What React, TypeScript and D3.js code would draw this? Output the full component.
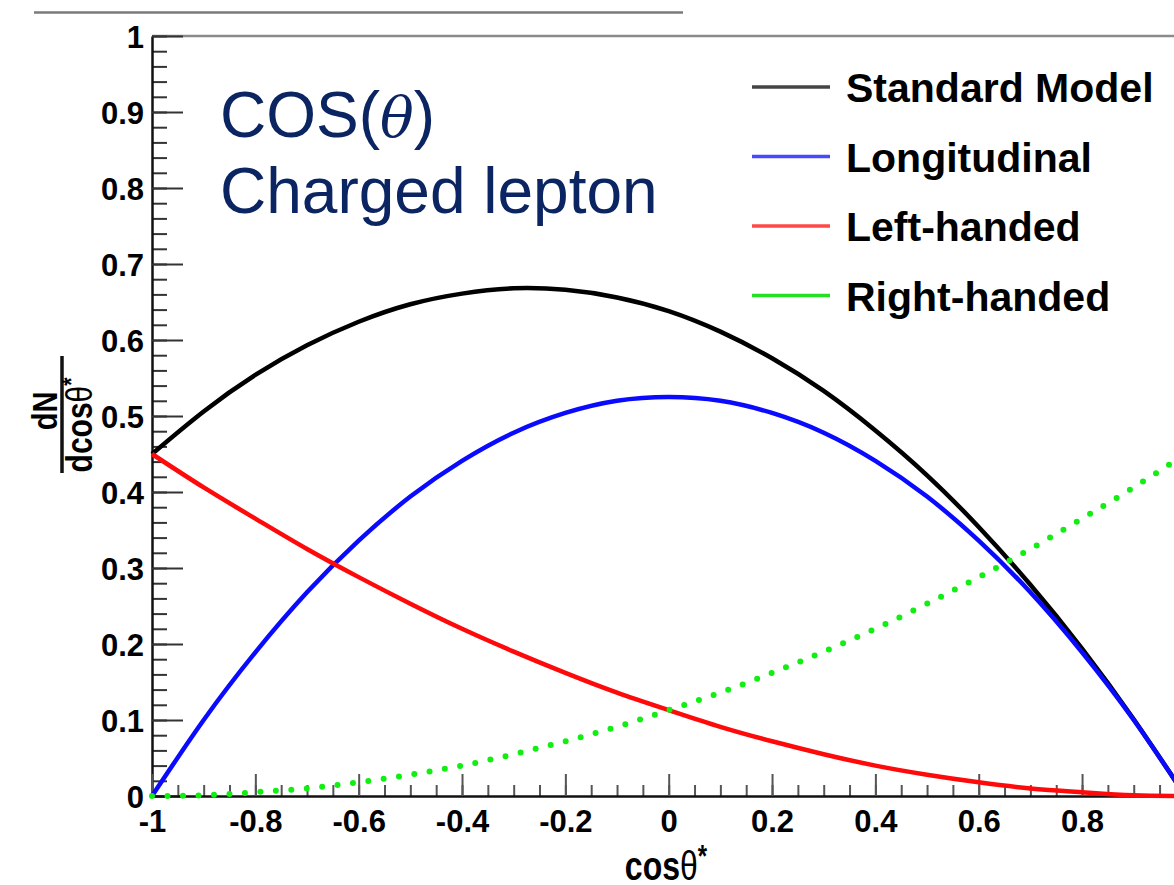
import React, { useEffect, useRef } from "react";
import * as d3 from "d3";

// values, step 0.1 in cos(theta*)
const cosTheta = [-1, -0.9, -0.8, -0.7, -0.6, -0.5, -0.4, -0.3, -0.2, -0.1, 0, 0.1, 0.2, 0.3, 0.4, 0.5, 0.6, 0.7, 0.8, 0.9, 1];
const standardModel = [0.45, 0.506, 0.554, 0.593, 0.624, 0.647, 0.661, 0.668, 0.666, 0.656, 0.638, 0.611, 0.576, 0.533, 0.481, 0.422, 0.354, 0.278, 0.194, 0.101, 0];
const longitudinal = [0, 0.1, 0.189, 0.268, 0.336, 0.394, 0.441, 0.478, 0.504, 0.52, 0.525, 0.52, 0.504, 0.478, 0.441, 0.394, 0.336, 0.268, 0.189, 0.1, 0];
const leftHanded = [0.45, 0.406, 0.365, 0.325, 0.288, 0.253, 0.22, 0.19, 0.162, 0.136, 0.113, 0.091, 0.072, 0.055, 0.04, 0.028, 0.018, 0.01, 0.005, 0.001, 0];
const rightHanded = [0, 0.001, 0.005, 0.01, 0.018, 0.028, 0.04, 0.055, 0.072, 0.091, 0.113, 0.136, 0.162, 0.19, 0.22, 0.253, 0.288, 0.325, 0.365, 0.406, 0.45];

const seriesNames = ["Standard Model", "Longitudinal", "Left-handed", "Right-handed"];
const seriesColors = ["#000000", "#0a0aff", "#ff0a0a", "#11ee11"];
const legendColors = ["#444444", "#4848ff", "#ff4848", "#22e022"];

// the label at +1 falls outside the visible area, so it is left out
const xTickLabels = ["-1", "-0.8", "-0.6", "-0.4", "-0.2", "0", "0.2", "0.4", "0.6", "0.8"];
const yTickLabels = ["0", "0.1", "0.2", "0.3", "0.4", "0.5", "0.6", "0.7", "0.8", "0.9", "1"];

const width = 1174;
const height = 885;
const font = "'Liberation Sans', Arial, Helvetica, sans-serif";

const App = () => {
  const svgRef = useRef<SVGSVGElement>(null);

  useEffect(() => {
    const svg = d3.select(svgRef.current);
    svg.selectAll("*").remove();

    const x = d3.scaleLinear().domain([-1, 1]).range([152, 1185.4]);
    const y = d3.scaleLinear().domain([0, 1]).range([796, 36]);

    // slide decoration line
    svg.append("line")
      .attr("x1", 34).attr("x2", 683).attr("y1", 12.5).attr("y2", 12.5)
      .attr("stroke", "#7a7a7a").attr("stroke-width", 2.5);

    // top of frame
    svg.append("line")
      .attr("x1", x(-1)).attr("x2", x(1)).attr("y1", y(1)).attr("y2", y(1))
      .attr("stroke", "#8a8a8a").attr("stroke-width", 2.5);

    // y axis: minor then major
    svg.append("g")
      .attr("transform", `translate(${x(-1)},0)`)
      .call(d3.axisLeft(y).tickValues(d3.ticks(0, 1, 50)).tickSize(-15).tickSizeOuter(0).tickFormat(() => ""))
      .call(g => g.select(".domain").remove())
      .call(g => g.selectAll(".tick line").attr("stroke", "#333").attr("stroke-width", 2));

    svg.append("g")
      .attr("transform", `translate(${x(-1)},0)`)
      .call(d3.axisLeft(y).tickValues(yTickLabels.map(Number)).tickSize(-31).tickSizeOuter(0).tickPadding(8).tickFormat((_, i) => yTickLabels[i]))
      .call(g => g.select(".domain").attr("stroke", "#111").attr("stroke-width", 2.5))
      .call(g => g.selectAll(".tick line").attr("stroke", "#333").attr("stroke-width", 2))
      .call(g => g.selectAll(".tick text").attr("dy", "0.38em").attr("fill", "#000"))
      .attr("font-family", font).attr("font-size", 31).attr("font-weight", "bold");

    // x axis: minor then major
    svg.append("g")
      .attr("transform", `translate(0,${y(0)})`)
      .call(d3.axisBottom(x).tickValues(d3.ticks(-1, 1, 40)).tickSize(-11).tickSizeOuter(0).tickFormat(() => ""))
      .call(g => g.select(".domain").remove())
      .call(g => g.selectAll(".tick line").attr("stroke", "#555").attr("stroke-width", 2));

    svg.append("g")
      .attr("transform", `translate(0,${y(0)})`)
      .call(d3.axisBottom(x).tickValues(xTickLabels.map(Number)).tickSize(-22).tickSizeOuter(0).tickPadding(14).tickFormat((_, i) => xTickLabels[i]))
      .call(g => g.select(".domain").attr("stroke", "#111").attr("stroke-width", 2.5))
      .call(g => g.selectAll(".tick line").attr("stroke", "#555").attr("stroke-width", 2))
      .call(g => g.selectAll(".tick text").attr("fill", "#000"))
      .attr("font-family", font).attr("font-size", 31).attr("font-weight", "bold");

    // axis titles
    const xTitle = svg.append("text")
      .attr("transform", "translate(666,880) scale(1,1.28)")
      .attr("text-anchor", "middle")
      .attr("font-family", font).attr("font-size", 32).attr("font-weight", "bold");
    xTitle.append("tspan").text("cos");
    xTitle.append("tspan").attr("font-weight", "normal").text("θ");
    xTitle.append("tspan").attr("dy", -10).attr("font-size", 24).text("*");

    svg.append("text")
      .attr("transform", "translate(57,411) rotate(-90) scale(1,1.2)")
      .attr("text-anchor", "middle")
      .attr("font-family", font).attr("font-size", 29).attr("font-weight", "bold")
      .text("dN");
    svg.append("line")
      .attr("x1", 62).attr("x2", 62).attr("y1", 356).attr("y2", 473)
      .attr("stroke", "#111").attr("stroke-width", 3.5);
    const yDen = svg.append("text")
      .attr("transform", "translate(92,425) rotate(-90) scale(1,1.2)")
      .attr("text-anchor", "middle")
      .attr("font-family", font).attr("font-size", 30).attr("font-weight", "bold");
    yDen.append("tspan").text("dcos");
    yDen.append("tspan").attr("font-weight", "normal").text("θ");
    yDen.append("tspan").attr("dy", -10).attr("font-size", 21).text("*");

    // curves
    const allSeries = [standardModel, longitudinal, leftHanded, rightHanded];
    const line = d3.line<number>()
      .curve(d3.curveNatural)
      .x((_, i) => x(cosTheta[i]))
      .y(d => y(d));

    allSeries.forEach((values, k) => {
      const path = svg.append("path")
        .datum(values)
        .attr("fill", "none")
        .attr("stroke", seriesColors[k])
        .attr("d", line);
      if (k === 3) {
        path.attr("stroke-width", 6).attr("stroke-linecap", "round").attr("stroke-dasharray", "0 15.5");
      } else {
        path.attr("stroke-width", 4.5);
      }
    });

    // legend
    const legend = svg.append("g").attr("font-family", font).attr("font-size", 41).attr("font-weight", "bold");
    seriesNames.forEach((name, i) => {
      const ly = 87 + i * 69.5;
      legend.append("line")
        .attr("x1", 752).attr("x2", 830).attr("y1", ly).attr("y2", ly)
        .attr("stroke", legendColors[i]).attr("stroke-width", 3.5);
      legend.append("text")
        .attr("x", 846).attr("y", ly + 15)
        .attr("fill", "#000")
        .text(name);
    });

    // annotation
    const note = svg.append("g").attr("font-family", font).attr("font-size", 64).attr("fill", "#0b2462");
    const t1 = note.append("text").attr("x", 220).attr("y", 137);
    t1.append("tspan").text("COS(");
    t1.append("tspan").attr("font-style", "italic").attr("font-family", "'DejaVu Serif', serif").attr("font-size", 56).text("θ");
    t1.append("tspan").text(")");
    note.append("text").attr("x", 220).attr("y", 213).text("Charged lepton");
  }, []);

  return (
    <svg
      ref={svgRef}
      width={width}
      height={height}
      style={{ position: "absolute", left: 0, top: 0, background: "#fff" }}
    />
  );
};

export default App;
